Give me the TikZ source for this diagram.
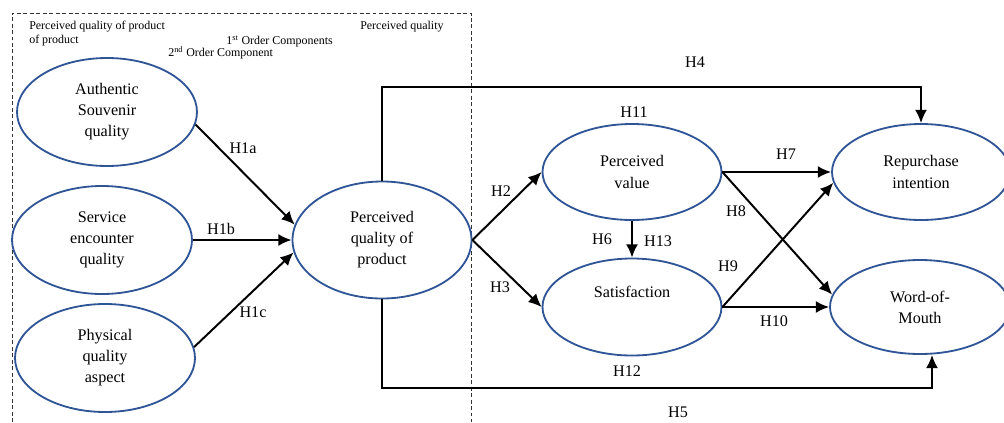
\documentclass[tikz,border=0pt]{standalone}
\usepackage{fontspec}
\setmainfont{Liberation Serif}
\usepackage{tikz}
\usetikzlibrary{shapes,arrows.meta}
\definecolor{elblue}{RGB}{47,85,151}

\begin{document}
\begin{tikzpicture}[auto, node distance=1cm, >={Latex[length=3.3mm,width=3mm]},
    construct/.style={draw=elblue, ellipse, line width=1.3pt, align=center, inner sep=1pt,
      font=\fontsize{11.5}{15}\selectfont, minimum width=4.5cm, minimum height=2.7cm},
    hyp/.style={font=\fontsize{11.5}{14}\selectfont, inner sep=1pt},
    note/.style={font=\fontsize{8.5}{10}\selectfont, inner sep=0pt, anchor=west},
    link/.style={->, line width=1.4pt}]

    \useasboundingbox (0,0) rectangle (25.1,-10.55);

    % Cadru punctat
    \draw [black!80, line width=0.7pt, dash pattern=on 2.8pt off 1.8pt]
      (0.3,-10.55) -- (0.3,-0.325) -- (11.775,-0.325) -- (11.775,-10.55);

    % Texte de sus
    \node [note] (txt1) at (0.725,-0.675) {Perceived quality of product};
    \node [note] (txt2) at (0.725,-1.025) {of product};
    \node [note] (txt3) at (5.65,-1.025) {1\textsuperscript{st} Order Components};
    \node [note] (txt4) at (4.2,-1.325) {2\textsuperscript{nd} Order Component};
    \node [note] (txt5) at (9.0,-0.675) {Perceived quality};

    % Componente de ordin 1
    \node [construct] (auth) at (2.675,-2.8) {Authentic\\Souvenir\\quality};
    \node [construct, below of=auth, node distance=3.2cm, xshift=-0.125cm] (serv) {Service\\encounter\\quality};
    \node [construct, below of=serv, node distance=2.95cm, xshift=0.075cm] (phys) {Physical\\quality\\aspect};

    % Componenta de ordin 2
    \node [construct, right of=serv, node distance=7cm, minimum width=4.475cm, minimum height=2.925cm] (pqp) {Perceived\\quality of\\product};

    % Rezultate
    \node [construct, minimum width=4.475cm, minimum height=2.4cm] (pv) at (15.8,-4.3) {Perceived\\value};
    \node [construct, below of=pv, node distance=3.375cm, minimum width=4.475cm, minimum height=2.425cm] (sat) {\raisebox{0.75cm}{Satisfaction}};
    \node [construct, right of=pv, node distance=7.225cm, minimum width=4.45cm, minimum height=2.4cm] (rep) {Repurchase\\intention};
    \node [construct, right of=sat, node distance=7.2cm, minimum width=4.5cm, minimum height=2.35cm] (wom) {Word-of-\\Mouth};

    % Ipoteze
    \node [hyp] (h1a) at (6.075,-3.7) {H1a};
    \node [hyp] (h1b) at (5.525,-5.725) {H1b};
    \node [hyp] (h1c) at (6.325,-7.8) {H1c};
    \node [hyp] (h2) at (12.525,-4.775) {H2};
    \node [hyp] (h3) at (12.5,-7.175) {H3};
    \node [hyp] (h4) at (17.375,-1.55) {H4};
    \node [hyp] (h5) at (16.95,-10.3) {H5};
    \node [hyp] (h6) at (15.05,-5.975) {H6};
    \node [hyp] (h13) at (16.45,-6.025) {H13};
    \node [hyp] (h7) at (19.65,-3.85) {H7};
    \node [hyp] (h8) at (18.4,-5.275) {H8};
    \node [hyp] (h9) at (18.2,-6.65) {H9};
    \node [hyp] (h10) at (19.35,-8.025) {H10};
    \node [hyp] (h11) at (15.85,-2.8) {H11};
    \node [hyp] (h12) at (15.675,-9.275) {H12};

    % Linii de legatura
    \draw [link] (auth.-8) -- (pqp.170);
    \draw [link] (serv) -- (pqp);
    \draw [link] (phys.7) -- (pqp.188);
    \draw [link] (pqp.east) -- (pv.west);
    \draw [link] (pqp.east) -- (sat.west);
    \draw [link] (pv) -- (sat);
    \draw [link] (pv) -- (rep);
    \draw [link] (pv.east) -- (wom.172);
    \draw [link] (sat.east) -- (rep.187);
    \draw [link] (sat) -- (wom);
    \draw [link] (pqp.north) -- ++(0,2.35) -| (rep.north);
    \draw [link] (pqp.south) -- ++(0,-2.225) -| ([xshift=0.3cm]wom.south);

\end{tikzpicture}
\end{document}
